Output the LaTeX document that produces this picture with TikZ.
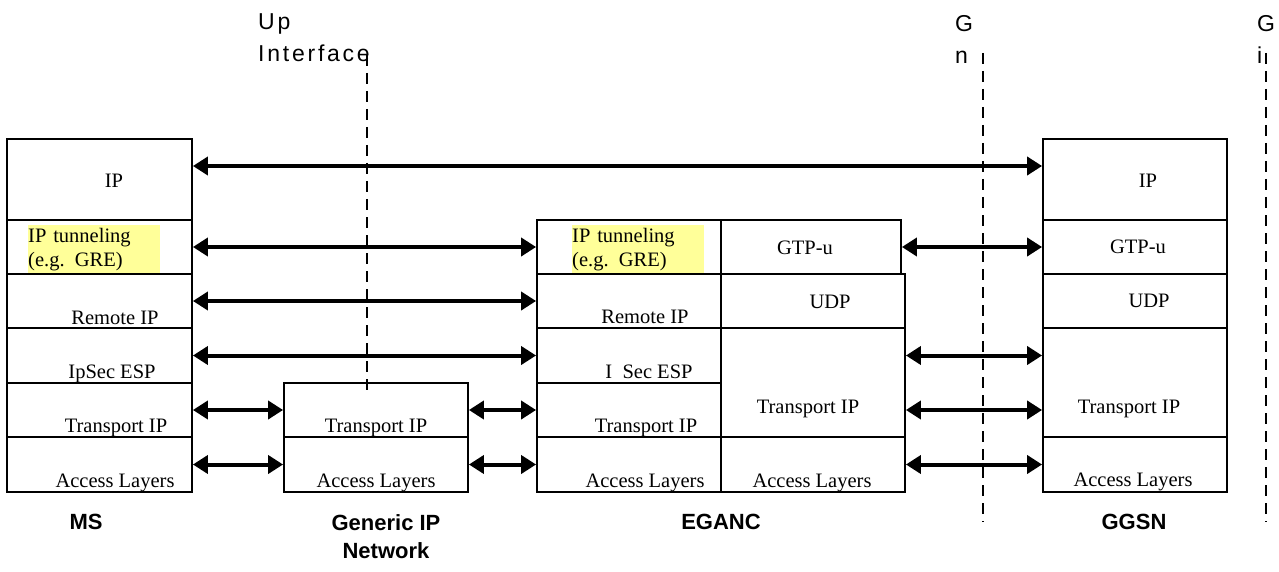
\documentclass[tikz,border=0pt]{standalone}
\usepackage{fontspec}
\setmainfont{Liberation Serif}
\setsansfont{Liberation Sans}
\usetikzlibrary{arrows.meta}
\definecolor{hlyellow}{RGB}{255,255,153}

\begin{document}
\begin{tikzpicture}[x=1pt,y=-1pt]
  \tikzstyle{layer}=[draw,line width=1.8pt,inner sep=0pt]
  \tikzstyle{txt}=[anchor=base,inner sep=0pt,font=\fontsize{20.5}{24}\selectfont]
  \tikzstyle{hl}=[fill=hlyellow,anchor=north west,text width=132pt,align=left,minimum height=48pt,inner sep=0pt,font=\fontsize{20.5}{24}\selectfont]
  \tikzstyle{peer}=[{Triangle[length=15pt,width=18pt]}-{Triangle[length=15pt,width=18pt]},line width=4pt]
  \tikzstyle{iface}=[dash pattern=on 11pt off 7pt,line width=2.8pt]
  \tikzstyle{entity}=[anchor=north,inner sep=0pt,align=center,font={\sffamily\bfseries\fontsize{22}{28}\selectfont}]
  \tikzstyle{ifname}=[anchor=north west,inner sep=0pt,align=left,font={\sffamily\fontsize{23}{32}\selectfont\addfontfeature{LetterSpace=12}}]
  \useasboundingbox (0,0) rectangle (1279,572);
  % MS
  \node[layer,minimum width=185pt,minimum height=81pt] (msIP)  at (99.5,179.5) {};
  \node[layer,minimum width=185pt,minimum height=54pt] (msTun) at (99.5,247)   {};
  \node[layer,minimum width=185pt,minimum height=54pt] (msRem) at (99.5,301)   {};
  \node[layer,minimum width=185pt,minimum height=55pt] (msSec) at (99.5,355.5) {};
  \node[layer,minimum width=185pt,minimum height=54pt] (msTP)  at (99.5,410)   {};
  \node[layer,minimum width=185pt,minimum height=55pt] (msAcc) at (99.5,464.5) {};
  \node[txt] (msIPl)  at (114,188) {IP};
  \node[hl]  (msTunl) at (28,225)  {IP tunneling\\(e.g. GRE)};
  \node[txt] (msReml) at (115,324) {Remote IP};
  \node[txt] (msSecl) at (112,378) {IpSec ESP};
  \node[txt] (msTPl)  at (116,432) {Transport IP};
  \node[txt] (msAccl) at (115,487) {Access Layers};
  % generic IP network
  \node[layer,minimum width=184pt,minimum height=54pt] (gnTP)  at (376,410)   {};
  \node[layer,minimum width=184pt,minimum height=55pt] (gnAcc) at (376,464.5) {};
  \node[txt] (gnTPl)  at (376,432) {Transport IP};
  \node[txt] (gnAccl) at (376,487) {Access Layers};
  % EGANC
  \node[layer,minimum width=184pt,minimum height=54pt]  (egTun)  at (629,247)   {};
  \node[layer,minimum width=184pt,minimum height=54pt]  (egRem)  at (629,301)   {};
  \node[layer,minimum width=184pt,minimum height=55pt]  (egSec)  at (629,355.5) {};
  \node[layer,minimum width=184pt,minimum height=54pt]  (egTP)   at (629,410)   {};
  \node[layer,minimum width=184pt,minimum height=55pt]  (egAcc)  at (629,464.5) {};
  \node[layer,minimum width=180pt,minimum height=54pt]  (egGTP)  at (811,247)   {};
  \node[layer,minimum width=184pt,minimum height=54pt]  (egUDP)  at (813,301)   {};
  \node[layer,minimum width=184pt,minimum height=109pt] (egTP2)  at (813,382.5) {};
  \node[layer,minimum width=184pt,minimum height=55pt]  (egAcc2) at (813,464.5) {};
  \node[hl]  (egTunl)  at (572,225) {IP tunneling\\(e.g. GRE)};
  \node[txt] (egReml)  at (645,323) {Remote IP};
  \node[txt] (egSecl)  at (649,378) {I~~Sec ESP};
  \node[txt] (egTPl)   at (646,432) {Transport IP};
  \node[txt] (egAccl)  at (645,487) {Access Layers};
  \node[txt] (egGTPl)  at (805,254) {GTP-u};
  \node[txt] (egUDPl)  at (830,308) {UDP};
  \node[txt] (egTP2l)  at (808,413) {Transport IP};
  \node[txt] (egAcc2l) at (812,487) {Access Layers};
  % GGSN
  \node[layer,minimum width=184pt,minimum height=81pt]  (ggIP)  at (1135,179.5) {};
  \node[layer,minimum width=184pt,minimum height=54pt]  (ggGTP) at (1135,247)   {};
  \node[layer,minimum width=184pt,minimum height=54pt]  (ggUDP) at (1135,301)   {};
  \node[layer,minimum width=184pt,minimum height=109pt] (ggTP)  at (1135,382.5) {};
  \node[layer,minimum width=184pt,minimum height=55pt]  (ggAcc) at (1135,464.5) {};
  \node[txt] (ggIPl)  at (1148,188) {IP};
  \node[txt] (ggGTPl) at (1138,253) {GTP-u};
  \node[txt] (ggUDPl) at (1149,307) {UDP};
  \node[txt] (ggTPl)  at (1129,413) {Transport IP};
  \node[txt] (ggAccl) at (1133,486) {Access Layers};
  % peer arrows
  \draw[peer] ([yshift=13.5pt]msIP.east) -- ([yshift=13.5pt]ggIP.west);
  \draw[peer] (msTun) -- (egTun);
  \draw[peer] (msRem) -- (egRem);
  \draw[peer] (msSec) -- (egSec);
  \draw[peer] (msTP) -- (gnTP);
  \draw[peer] (msAcc) -- (gnAcc);
  \draw[peer] (gnTP) -- (egTP);
  \draw[peer] (gnAcc) -- (egAcc);
  \draw[peer] (egGTP) -- (ggGTP);
  \draw[peer] (egTP2.east |- egSec) -- (ggTP.west |- egSec);
  \draw[peer] (egTP2.east |- egTP) -- (ggTP.west |- egTP);
  \draw[peer] (egAcc2) -- (ggAcc);
  % interfaces
  \coordinate (upTop) at (367,55);
  \coordinate (upBot) at (367,395);
  \coordinate (gnTop) at (983,53);
  \coordinate (gnBot) at (983,522);
  \coordinate (giTop) at (1266,53);
  \coordinate (giBot) at (1266,522);
  \draw[iface] (upTop) -- (upBot);
  \draw[iface] (gnTop) -- (gnBot);
  \draw[iface] (giTop) -- (giBot);
  \node[ifname] (upl) at (258,13.5) {Up\\Interface};
  \node[ifname] (gnl) at (955,15.5) {G\\n};
  \node[ifname] (gil) at (1257,15.5) {G\\i};
  % entities
  \node[entity] (ms)    at (86,514)   {MS};
  \node[entity] (gen)   at (386,514)  {Generic IP\\Network};
  \node[entity] (eganc) at (721,514)  {EGANC};
  \node[entity] (ggsn)  at (1134,514) {GGSN};
\end{tikzpicture}
\end{document}
